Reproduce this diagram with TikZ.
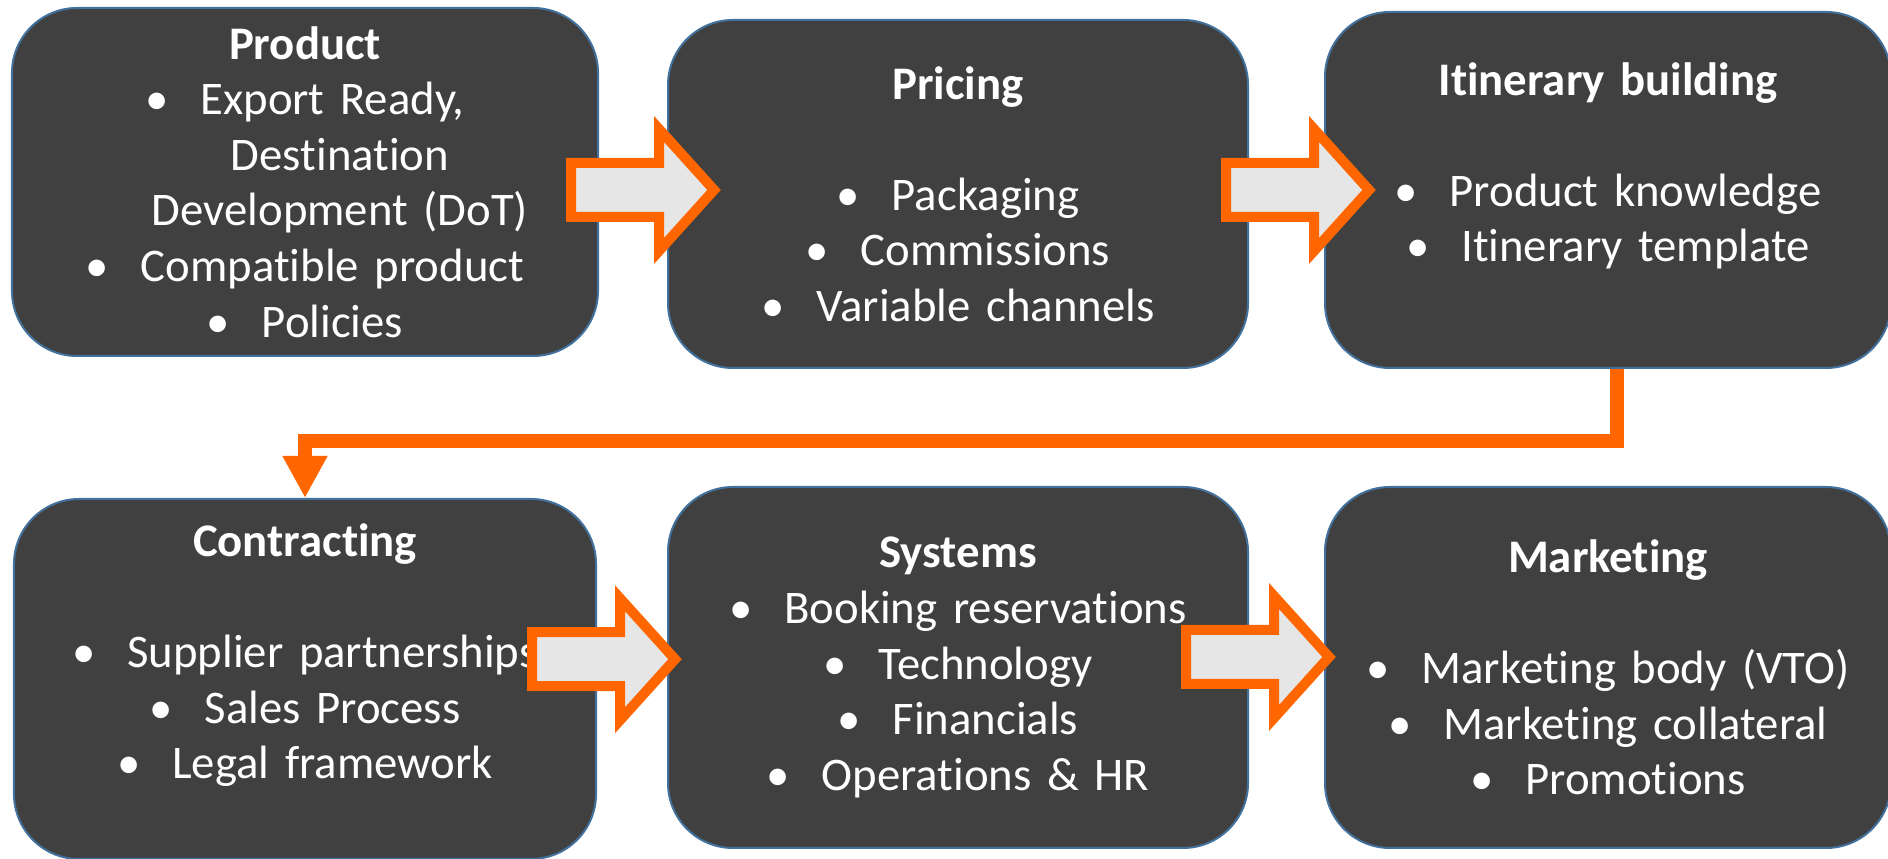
\documentclass[tikz,border=0pt]{standalone}
\usepackage{fontspec}
\setmainfont{Carlito}[Ligatures=NoCommon]
\usetikzlibrary{arrows.meta,positioning,calc}

\definecolor{boxfill}{HTML}{404040}
\definecolor{boxline}{HTML}{41719C}
\definecolor{flow}{HTML}{FF6600}
\definecolor{arrowfill}{HTML}{E6E6E6}

% bullet item and wrapped continuation line
\newcommand{\itm}[1]{\makebox[5.5mm][l]{\textbullet}#1}
\newcommand{\cont}[1]{\hspace*{7mm}#1}

\begin{document}
\begin{tikzpicture}[
  x=1mm, y=1mm,
  >=Latex,
  stage/.style={
    draw=boxline,
    line width=0.2mm,
    fill=boxfill,
    text=white,
    rounded corners=6.5mm,
    align=center,
    inner sep=0.5mm,
    text width=52mm,
    minimum width=58mm,
    minimum height=35mm,
    font=\fontsize{13.3}{15.8}\selectfont
  },
  link/.style={
    draw=flow,
    line width=1.4mm,
    -{Triangle[width=4.2mm,length=4.2mm]}
  },
  blockarrow/.pic={
    \draw[draw=flow, fill=arrowfill, line width=1mm]
      (-7.15,2.7) -- (1.65,2.7) -- (1.65,6.1) -- (7.15,0)
      -- (1.65,-6.1) -- (1.65,-2.7) -- (-7.15,-2.7) -- cycle;
  }
]
\path[use as bounding box, fill=white] (0,0) rectangle (188.8,-85.9);

% top row
\node[stage, minimum width=58.6mm, minimum height=34.8mm] (product) at (30.5,-18.2)
  {\textbf{Product}\\ \itm{Export Ready,}\\ \cont{Destination}\\ \cont{Development (DoT)}\\ \itm{Compatible product}\\ \itm{Policies}};
\node[stage, minimum height=34.8mm, right=6.8mm of product, yshift=-1.2mm] (pricing)
  {\textbf{Pricing}\\ \mbox{}\\ \itm{Packaging}\\ \itm{Commissions}\\ \itm{Variable channels}};
\node[stage, minimum width=56.6mm, minimum height=35.6mm, right=7.5mm of pricing, yshift=0.4mm] (itinerary)
  {\textbf{Itinerary building}\\ \mbox{}\\ \itm{Product knowledge}\\ \itm{Itinerary template}\\ \mbox{}};

% bottom row
\node[stage, minimum width=58.2mm, minimum height=36mm, below=14.1mm of product] (contracting)
  {\textbf{Contracting}\\ \mbox{}\\ \itm{Supplier partnerships}\\ \itm{Sales Process}\\ \itm{Legal framework}\\ \mbox{}};
\node[stage, minimum height=36.1mm, below=11.7mm of pricing] (systems)
  {\textbf{Systems}\\ \itm{Booking reservations}\\ \itm{Technology}\\ \itm{Financials}\\ \itm{Operations \& HR}};
\node[stage, minimum width=56.6mm, minimum height=36.1mm, below=11.7mm of itinerary] (marketing)
  {\textbf{Marketing}\\ \mbox{}\\ \itm{Marketing body (VTO)}\\ \itm{Marketing collateral}\\ \itm{Promotions}};

% wrap from the end of the top row to the start of the bottom row
\draw[link] ([xshift=0.9mm]itinerary.south) -- ++(0,-7.2) -| (contracting.north);

% block arrows between stages
\pic at ($(product.east)!.5!(pricing.west)+(0.95,-0.2)$) {blockarrow};
\pic at ($(pricing.east)!.5!(itinerary.west)+(1.1,0.2)$) {blockarrow};
\pic at ($(contracting.east)!.5!(systems.west)+(-2.85,1.4)$) {blockarrow};
\pic at ($(systems.east)!.5!(marketing.west)+(-2.9,1.05)$) {blockarrow};
\end{tikzpicture}
\end{document}
